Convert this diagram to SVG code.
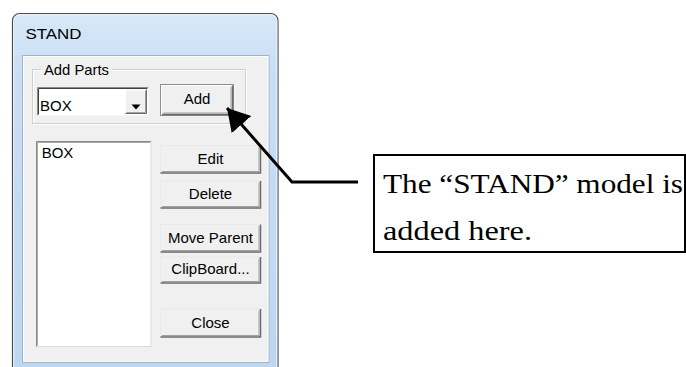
<svg xmlns="http://www.w3.org/2000/svg" width="686" height="367" viewBox="0 0 686 367">
<defs>
<linearGradient id="frameGrad" x1="0" y1="0" x2="0" y2="1" gradientUnits="objectBoundingBox">
<stop offset="0" stop-color="#d8e8f8"/>
<stop offset="0.15" stop-color="#c9def5"/>
<stop offset="1" stop-color="#bcd6f1"/>
</linearGradient>
<marker id="ah" markerWidth="26" markerHeight="28" refX="22" refY="13" orient="auto" markerUnits="userSpaceOnUse">
<path d="M0,0 L22,13 L0,26 Z" fill="#000"/>
</marker>
<style>
.ui{font-family:"Liberation Sans",Arial,sans-serif;font-size:15px;fill:#000}
.ctr{text-anchor:middle}
.btn{fill:#f0f0f0;stroke:none}
.hl{fill:none;stroke:#ffffff;stroke-width:1}
.hl2{fill:none;stroke:#e3e3e3;stroke-width:1;stroke-dasharray:1 1}
.sh{fill:none;stroke:#6a6a6a;stroke-width:1.5}
.sh2{fill:none;stroke:#a0a0a0;stroke-width:1}
.callout{font-family:"Liberation Serif","Times New Roman",serif;font-size:27px;fill:#000}
.conn{fill:none;stroke:#000;stroke-width:3}
</style>
</defs>
<rect width="686" height="367" fill="#ffffff"/>

<g id="dialog">
<rect x="12.5" y="13.5" width="265.5" height="380" rx="7" fill="url(#frameGrad)" stroke="#4e4e4e" stroke-width="1.2"/>
<rect x="13.8" y="14.8" width="263" height="378" rx="6" fill="none" stroke="#eef5fc" stroke-width="1"/>
<text x="25.5" y="38.5" class="ui" font-size="16" textLength="56" lengthAdjust="spacingAndGlyphs">STAND</text>
<rect x="22.5" y="55.5" width="246.5" height="307" fill="#f0f0f0" stroke="#9fb3c8" stroke-width="1"/>
<rect x="23.5" y="56.5" width="244.5" height="305" fill="none" stroke="#ffffff" stroke-width="0.8"/>

<g id="group-add-parts">
<rect x="33.5" y="70.5" width="213" height="54" fill="none" stroke="#ffffff"/>
<rect x="32.5" y="69.5" width="213" height="54" fill="none" stroke="#cfcfcf"/>
<rect x="41" y="62" width="71" height="14" fill="#f0f0f0"/>
<text x="44" y="75" class="ui" font-size="14" textLength="65" lengthAdjust="spacingAndGlyphs">Add Parts</text>
</g>

<g id="combo">
<rect x="37.5" y="87.5" width="111" height="28" fill="#ffffff"/>
<path d="M37.5,115.5 V87.5 H148.5" fill="none" stroke="#8a8a8a"/>
<path d="M38.5,114.5 V88.5 H147.5" fill="none" stroke="#404040"/>
<path d="M37.5,115.5 H148.5 V87.5" fill="none" stroke="#f8f8f8"/>
<text x="40" y="111" class="ui">BOX</text>
<rect x="125" y="89.5" width="22" height="24" class="btn"/>
<path d="M125.5,113 V90 H146.5" class="hl"/>
<path d="M125.5,113.5 H146.5 V89.5" fill="none" stroke="#6a6a6a"/>
<path d="M126.5,112.5 H145.5 V90.5" class="sh2"/>
<path d="M131.5,104.5 H140.5 L136,109.5 Z" fill="#000"/>
</g>

<g id="btn-add">
<rect x="160.5" y="84.5" width="73" height="31" fill="#f0f0f0" stroke="#8c8c8c"/>
<path d="M161.5,114.5 V85.5 H232.5" class="hl"/>
<path d="M162,114.5 H232.5 V85.5" class="sh"/>
<path d="M163.5,113 H231 V87" class="sh2"/>
<text x="197" y="104" class="ui ctr">Add</text>
</g>

<g id="listbox">
<rect x="36.5" y="141.5" width="114.5" height="205" fill="#ffffff" stroke="#dcdcdc"/>
<path d="M36.5,346.5 V141.5 H151" fill="none" stroke="#8a8a8a"/>
<path d="M37.5,345.5 V142.5 H150" fill="none" stroke="#a8a8a8"/>
<text x="41.7" y="157.5" class="ui">BOX</text>
</g>

<g id="btn-edit">
<rect x="160.5" y="145.5" width="100.5" height="28" class="btn"/>
<path d="M160.5,173 V145.5 H260.5" class="hl2"/>
<path d="M160.5,173 H260.5 V145.5" class="sh"/>
<path d="M162,171.5 H259 V147" class="sh2"/>
<text x="210.5" y="164" class="ui ctr">Edit</text>
</g>

<g id="btn-delete">
<rect x="160.5" y="181" width="100.5" height="27.5" class="btn"/>
<path d="M160.5,208 V181 H260.5" class="hl2"/>
<path d="M160.5,208 H260.5 V181" class="sh"/>
<path d="M162,206.5 H259 V182.5" class="sh2"/>
<text x="210.5" y="199" class="ui ctr">Delete</text>
</g>

<g id="btn-move-parent">
<rect x="160.5" y="224.5" width="100.5" height="27.5" class="btn"/>
<path d="M160.5,252 V224.5 H260.5" class="hl2"/>
<path d="M160.5,252 H260.5 V224.5" class="sh"/>
<path d="M162,250.5 H259 V226" class="sh2"/>
<text x="210.5" y="243" class="ui ctr">Move Parent</text>
</g>

<g id="btn-clipboard">
<rect x="160.5" y="257" width="100.5" height="26.5" class="btn"/>
<path d="M160.5,283 V257 H260.5" class="hl2"/>
<path d="M160.5,283 H260.5 V257" class="sh"/>
<path d="M162,281.5 H259 V258.5" class="sh2"/>
<text x="210.5" y="273.5" class="ui ctr">ClipBoard...</text>
</g>

<g id="btn-close">
<rect x="160.5" y="309" width="100.5" height="28" class="btn"/>
<path d="M160.5,337 V309 H260.5" class="hl2"/>
<path d="M160.5,337 H260.5 V309" class="sh"/>
<path d="M162,335.5 H259 V310.5" class="sh2"/>
<text x="210.5" y="328" class="ui ctr">Close</text>
</g>
</g>

<g id="callout">
<rect x="374" y="155" width="311" height="97" fill="#ffffff" stroke="#000" stroke-width="2"/>
<text x="383" y="193" class="callout" textLength="300" lengthAdjust="spacingAndGlyphs">The “STAND” model is</text>
<text x="383" y="240" class="callout" textLength="149" lengthAdjust="spacingAndGlyphs">added here.</text>
</g>

<g id="connectors">
<polyline class="conn" points="358,182 292,182 227,108" marker-end="url(#ah)"/>
</g>
</svg>
